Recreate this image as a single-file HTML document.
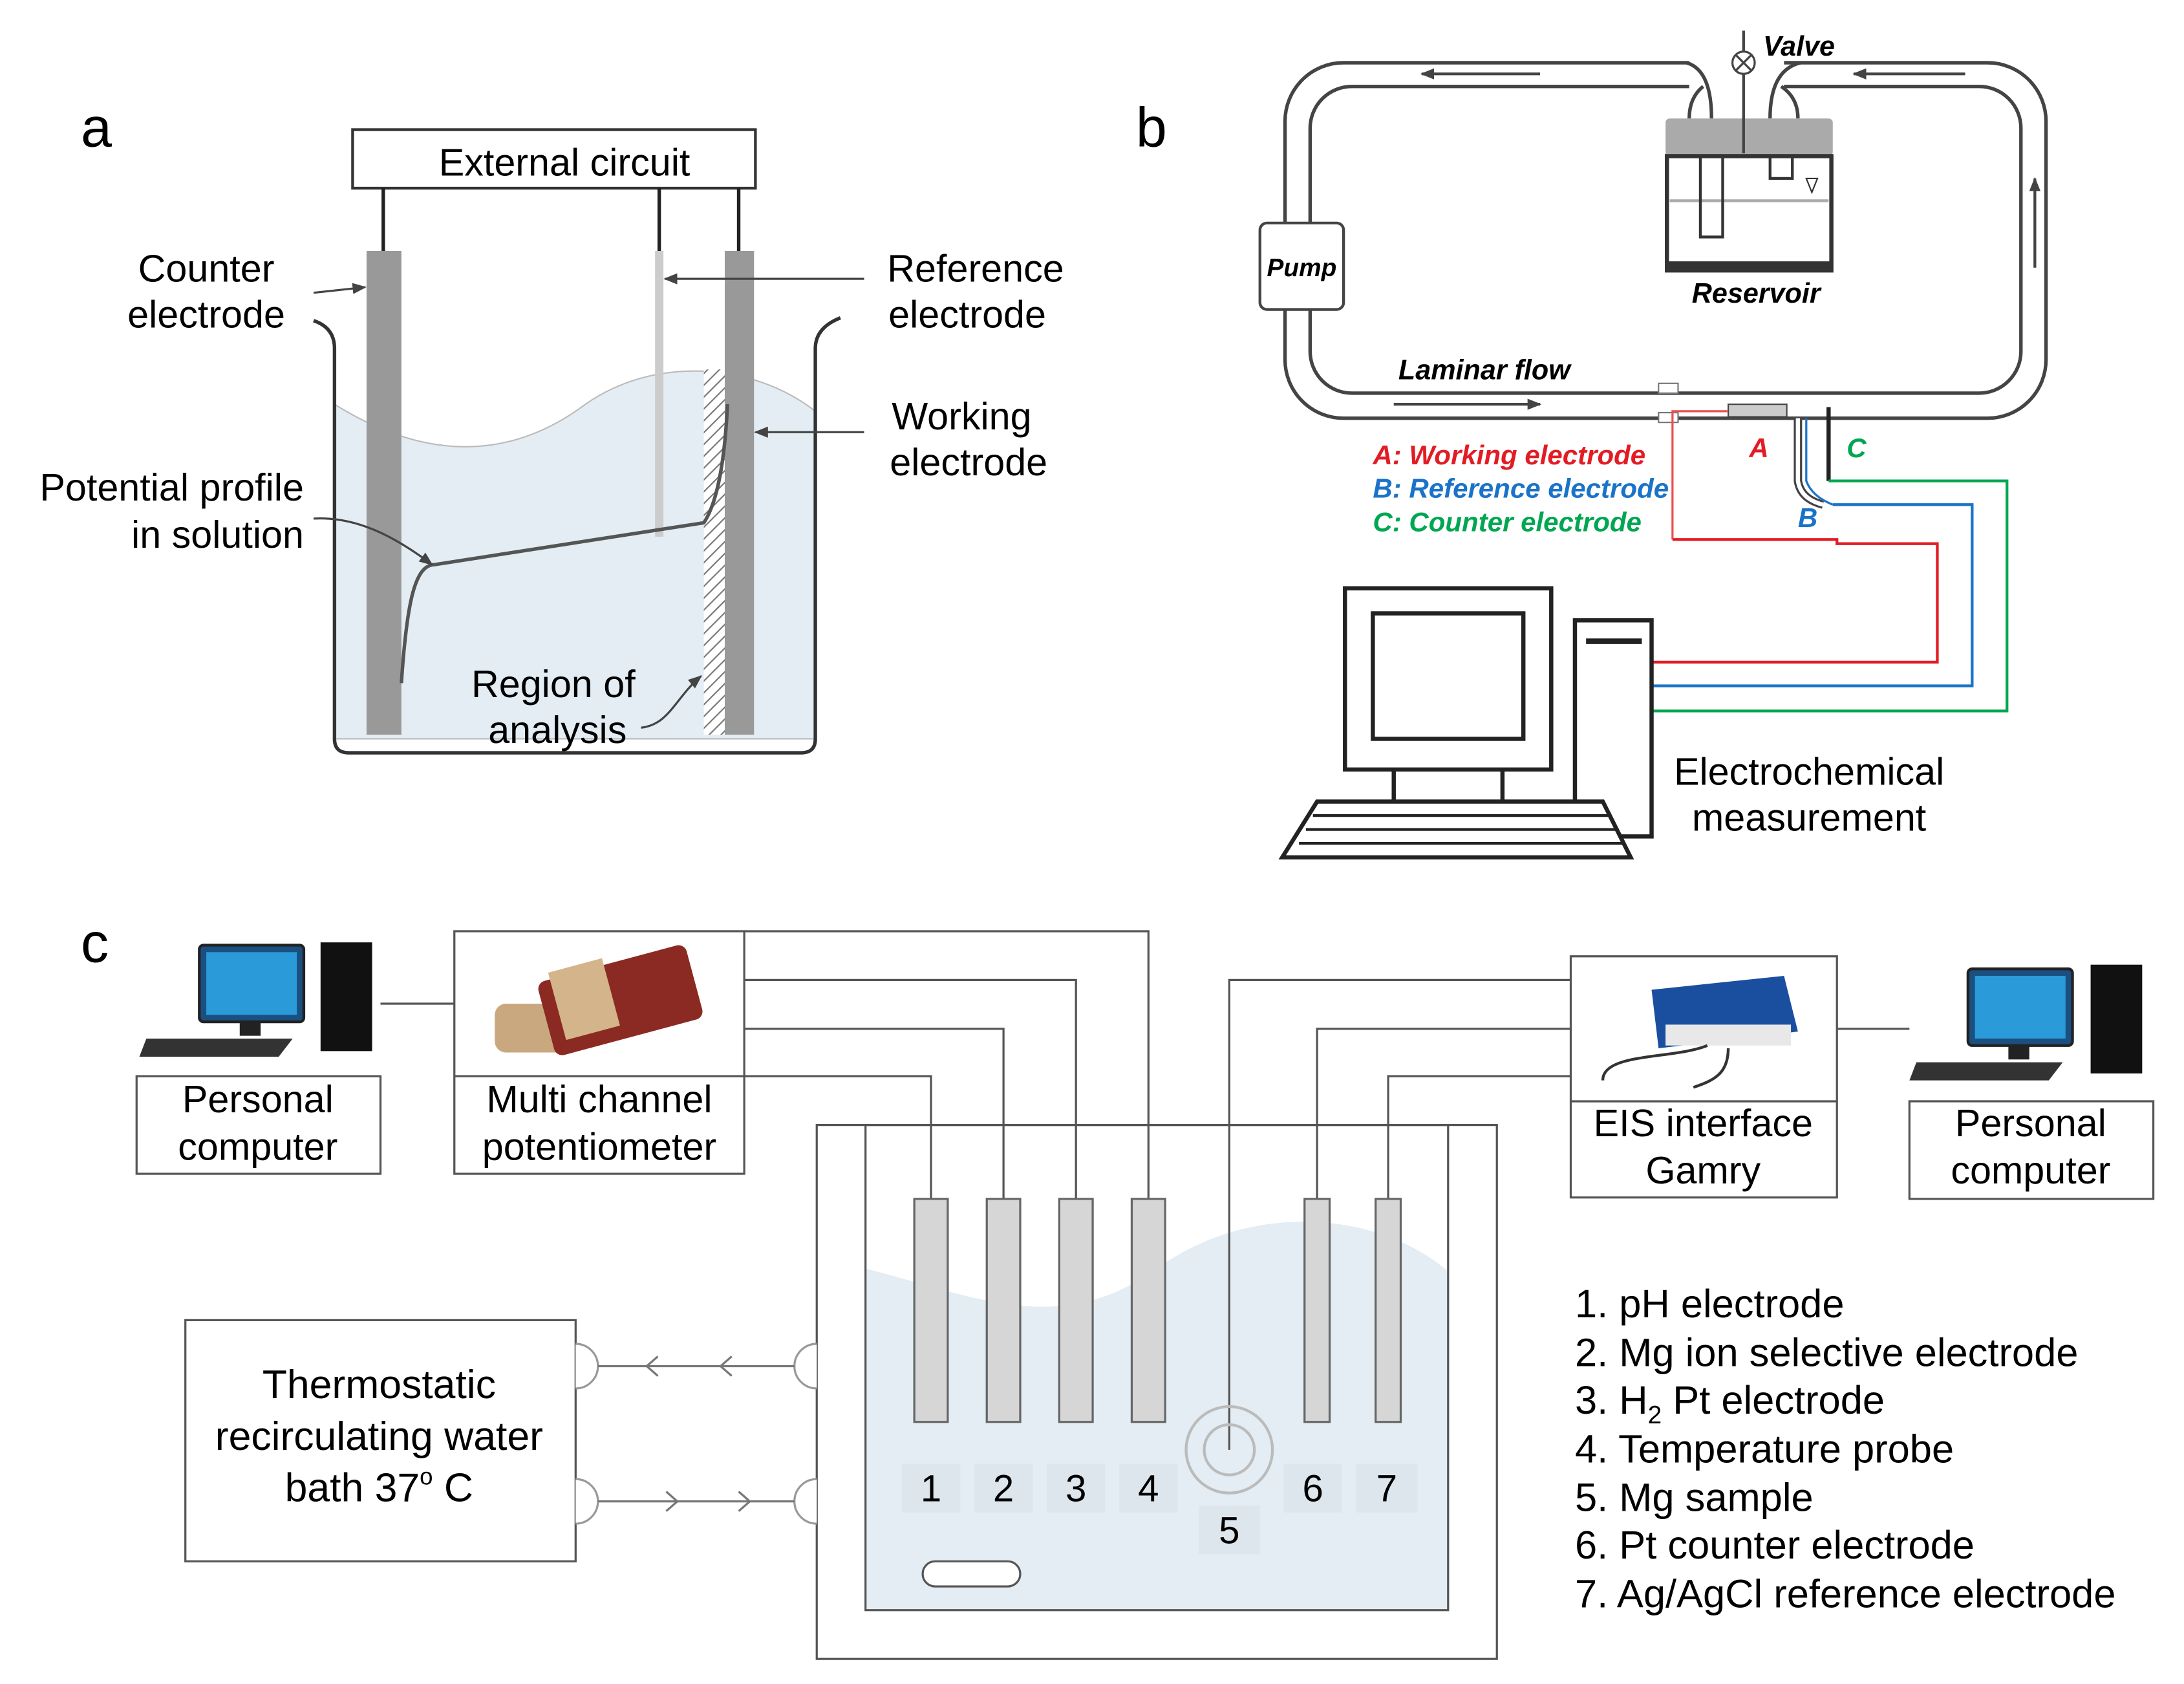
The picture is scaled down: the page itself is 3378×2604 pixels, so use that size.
<!DOCTYPE html>
<html><head><meta charset="utf-8"><style>
html,body{margin:0;padding:0;background:#fff;}
svg{display:block;}
text{font-family:"Liberation Sans",sans-serif;}
</style></head><body>
<svg width="3378" height="2604" viewBox="0 0 1567 1208" preserveAspectRatio="none" xmlns="http://www.w3.org/2000/svg">
<defs>
<pattern id="hatch" width="6" height="6" patternUnits="userSpaceOnUse" patternTransform="rotate(45)">
<rect width="6" height="6" fill="#fff"/><line x1="0" y1="0" x2="0" y2="6" stroke="#777" stroke-width="2"/></pattern>
<marker id="ah" markerWidth="10" markerHeight="8" refX="9" refY="4" orient="auto" markerUnits="userSpaceOnUse"><path d="M0,0 L10,4 L0,8 Z" fill="#444"/></marker>
</defs>

<text x="58" y="105" font-size="40">a</text>
<rect x="253" y="93" width="289" height="42" fill="#fff" stroke="#333" stroke-width="2"/>
<text x="405" y="126" font-size="27.5" text-anchor="middle">External circuit</text>
<path d="M240,290 C320,340 380,320 420,290 C470,255 540,260 585,295 L585,530 L240,530 Z" fill="#e3edf3" stroke="#bbb" stroke-width="1"/>
<path d="M225,230 Q240,235 240,250 L240,530 Q240,540 250,540 L575,540 Q585,540 585,530 L585,250 Q585,235 603,228" fill="none" stroke="#333" stroke-width="2.5"/>
<line x1="275" y1="135" x2="275" y2="180" stroke="#222" stroke-width="2.5"/>
<line x1="473" y1="135" x2="473" y2="180" stroke="#222" stroke-width="2.5"/>
<line x1="530" y1="135" x2="530" y2="180" stroke="#222" stroke-width="2.5"/>
<rect x="263" y="180" width="25" height="347" fill="#999"/>
<rect x="470" y="180" width="6" height="205" fill="#ccc"/>
<rect x="505" y="265" width="15" height="262" fill="url(#hatch)"/>
<rect x="520" y="180" width="21" height="347" fill="#999"/>
<path d="M288,490 C292,430 298,405 312,405 L505,375 C515,360 520,330 522,290" fill="none" stroke="#555" stroke-width="2.5"/>
<g font-size="27.5" text-anchor="middle">
<text x="148" y="202">Counter</text><text x="148" y="235">electrode</text>
<text x="700" y="202">Reference</text><text x="694" y="235">electrode</text>
<text x="690" y="308">Working</text><text x="695" y="341">electrode</text>
<text x="397" y="500">Region of</text><text x="400" y="533">analysis</text>
</g>
<g font-size="27.5" text-anchor="end">
<text x="218" y="359">Potential profile</text><text x="218" y="393">in solution</text>
</g>
<g stroke="#444" stroke-width="1.5" fill="none" marker-end="url(#ah)">
<line x1="225" y1="210" x2="262" y2="206"/>
<line x1="620" y1="200" x2="477" y2="200"/>
<line x1="620" y1="310" x2="542" y2="310"/>
<path d="M225,372 C260,370 290,390 310,405"/>
<path d="M460,522 C480,520 485,500 503,485"/>
</g>

<text x="815" y="105" font-size="40">b</text>
<rect x="922" y="45" width="546" height="255" rx="42" fill="none" stroke="#444" stroke-width="2.5"/>
<rect x="940" y="62" width="510" height="220" rx="30" fill="none" stroke="#444" stroke-width="2.5"/>
<rect x="1212" y="40" width="68" height="30" fill="#fff"/>
<path d="M1210,45 Q1228,50 1228,85 M1222,62 Q1212,70 1212,85" fill="none" stroke="#444" stroke-width="2.5"/>
<path d="M1292,45 Q1270,50 1270,85 M1278,62 Q1290,70 1290,85" fill="none" stroke="#444" stroke-width="2.5"/>
<rect x="1195" y="85" width="120" height="27" rx="3" fill="#aaa"/>
<rect x="1196" y="112" width="118" height="82" fill="#fff" stroke="#333" stroke-width="3"/>
<line x1="1196" y1="190" x2="1314" y2="190" stroke="#333" stroke-width="5"/>
<line x1="1198" y1="144" x2="1312" y2="144" stroke="#aaa" stroke-width="2"/>
<path d="M1220,112 L1220,170 L1236,170 L1236,112" fill="none" stroke="#333" stroke-width="2"/>
<path d="M1270,112 L1270,128 L1286,128 L1286,112" fill="none" stroke="#333" stroke-width="2"/>
<path d="M1296,128 L1304,128 L1300,138 Z" fill="none" stroke="#333" stroke-width="1"/>
<line x1="1251" y1="45" x2="1251" y2="110" stroke="#444" stroke-width="2"/>
<circle cx="1251" cy="45" r="8" fill="#fff" stroke="#444" stroke-width="1.5"/>
<path d="M1245,39 L1257,51 M1257,39 L1245,51" stroke="#444" stroke-width="1.5"/>
<line x1="1251" y1="22" x2="1251" y2="37" stroke="#444" stroke-width="2"/>
<text x="1265" y="40" font-size="20" font-style="italic" font-weight="bold">Valve</text>
<rect x="904" y="160" width="60" height="62" rx="5" fill="#fff" stroke="#444" stroke-width="2"/>
<text x="934" y="198" font-size="18" font-style="italic" font-weight="bold" text-anchor="middle">Pump</text>
<text x="1260" y="217" font-size="20" font-style="italic" font-weight="bold" text-anchor="middle">Reservoir</text>
<text x="1065" y="272" font-size="20" font-style="italic" font-weight="bold" text-anchor="middle">Laminar flow</text>
<g stroke="#444" stroke-width="2" marker-end="url(#ah)">
<line x1="1105" y1="53" x2="1020" y2="53"/>
<line x1="1410" y1="53" x2="1330" y2="53"/>
<line x1="1460" y1="192" x2="1460" y2="128"/>
<line x1="1000" y1="290" x2="1105" y2="290"/>
</g>
<rect x="1240" y="290" width="42" height="9" fill="#ccc" stroke="#444" stroke-width="1"/>
<rect x="1190" y="275" width="14" height="7" fill="#fff" stroke="#777"/>
<rect x="1190" y="296" width="14" height="7" fill="#fff" stroke="#777"/>
<path d="M1290,300 L1290,345 Q1292,358 1308,362" fill="none" stroke="#444" stroke-width="6"/>
<path d="M1290,300 L1290,345 Q1292,358 1308,362" fill="none" stroke="#fff" stroke-width="3"/>
<path d="M1296,300 L1296,345 Q1300,356 1315,362" fill="none" stroke="#1a73c8" stroke-width="1.5"/>
<line x1="1312" y1="292" x2="1312" y2="345" stroke="#222" stroke-width="3"/>
<g font-size="19.5" font-style="italic" font-weight="bold">
<text x="985" y="333" fill="#e21c24">A: Working electrode</text>
<text x="985" y="357" fill="#1a73c8">B: Reference electrode</text>
<text x="985" y="381" fill="#00a651">C: Counter electrode</text>
<text x="1255" y="328" fill="#e21c24">A</text>
<text x="1290" y="378" fill="#1a73c8">B</text>
<text x="1325" y="328" fill="#00a651">C</text>
</g>
<path d="M1200,387 L1200,295 L1240,295" fill="none" stroke="#e85050" stroke-width="1.5"/>
<path d="M1200,387 L1318,387 L1318,390 L1390,390 L1390,475 L1185,475" fill="none" stroke="#e21c24" stroke-width="2"/>
<path d="M1315,362 L1415,362 L1415,492 L1185,492" fill="none" stroke="#1a73c8" stroke-width="2"/>
<path d="M1312,345 L1440,345 L1440,510 L1185,510" fill="none" stroke="#00a651" stroke-width="2"/>
<rect x="965" y="422" width="148" height="130" fill="#fff" stroke="#222" stroke-width="3"/>
<rect x="985" y="440" width="108" height="90" fill="#fff" stroke="#222" stroke-width="3"/>
<path d="M1000,552 L1000,575 M1078,552 L1078,575" stroke="#222" stroke-width="3"/>
<rect x="1130" y="445" width="55" height="155" fill="#fff" stroke="#222" stroke-width="3"/>
<line x1="1138" y1="460" x2="1178" y2="460" stroke="#222" stroke-width="4"/>
<path d="M945,575 L1150,575 L1170,615 L920,615 Z" fill="#fff" stroke="#222" stroke-width="3"/>
<path d="M942,585 L1154,585 M937,595 L1159,595 M932,605 L1164,605" stroke="#222" stroke-width="2"/>
<text x="1298" y="563" font-size="27.5" text-anchor="middle">Electrochemical</text>
<text x="1298" y="596" font-size="27.5" text-anchor="middle">measurement</text>

<text x="58" y="690" font-size="40">c</text>
<rect x="143" y="678" width="75" height="55" rx="3" fill="#1a4f80" stroke="#222" stroke-width="2"/>
<rect x="148" y="683" width="65" height="45" fill="#2a9ad8"/>
<rect x="172" y="733" width="15" height="10" fill="#222"/>
<path d="M105,745 L210,745 L200,758 L100,758 Z" fill="#333"/>
<rect x="230" y="676" width="37" height="78" fill="#111"/>
<rect x="98" y="772" width="175" height="70" fill="#fff" stroke="#555" stroke-width="1.5"/>
<text x="185" y="798" font-size="27.5" text-anchor="middle">Personal</text>
<text x="185" y="832" font-size="27.5" text-anchor="middle">computer</text>
<line x1="273" y1="720" x2="326" y2="720" stroke="#555" stroke-width="1.5"/>
<rect x="326" y="668" width="208" height="174" fill="#fff" stroke="#555" stroke-width="1.5"/>
<line x1="326" y1="772" x2="534" y2="772" stroke="#555" stroke-width="1.5"/>
<rect x="355" y="720" width="60" height="35" rx="8" fill="#c9a880"/>
<rect x="390" y="690" width="110" height="55" rx="6" fill="#8a2a22" transform="rotate(-15 445 717)"/>
<rect x="400" y="685" width="40" height="50" fill="#d4b48a" transform="rotate(-15 445 717)"/>
<text x="430" y="798" font-size="27.5" text-anchor="middle">Multi channel</text>
<text x="430" y="832" font-size="27.5" text-anchor="middle">potentiometer</text>
<rect x="586" y="807" width="488" height="383" fill="#fff" stroke="#555" stroke-width="1.5"/>
<path d="M621,910 C700,930 760,960 830,910 C900,860 990,870 1039,912 L1039,1155 L621,1155 Z" fill="#e3edf3"/>
<rect x="621" y="807" width="418" height="348" fill="none" stroke="#555" stroke-width="1.5"/>
<g fill="none" stroke="#555" stroke-width="1.5">
<path d="M534,668 L824,668 L824,860"/>
<path d="M534,703 L772,703 L772,860"/>
<path d="M534,738 L720,738 L720,860"/>
<path d="M534,772 L668,772 L668,860"/>
<path d="M882,1040 L882,703 L1127,703"/>
<path d="M1127,738 L945,738 L945,860"/>
<path d="M1127,772 L996,772 L996,860"/>
<line x1="1318" y1="738" x2="1370" y2="738"/>
</g>
<g fill="#d6d6d6" stroke="#666" stroke-width="1.5">
<rect x="656" y="860" width="24" height="160"/>
<rect x="708" y="860" width="24" height="160"/>
<rect x="760" y="860" width="24" height="160"/>
<rect x="812" y="860" width="24" height="160"/>
<rect x="936" y="860" width="18" height="160"/>
<rect x="987" y="860" width="18" height="160"/>
</g>
<circle cx="882" cy="1040" r="31" fill="none" stroke="#bbb" stroke-width="2"/>
<circle cx="882" cy="1040" r="18" fill="none" stroke="#bbb" stroke-width="2"/>
<g fill="#dde6ec">
<rect x="647" y="1050" width="42" height="35"/><rect x="699" y="1050" width="42" height="35"/>
<rect x="751" y="1050" width="42" height="35"/><rect x="803" y="1050" width="42" height="35"/>
<rect x="860" y="1080" width="44" height="35"/>
<rect x="921" y="1050" width="42" height="35"/><rect x="973" y="1050" width="44" height="35"/>
</g>
<g font-size="27" text-anchor="middle">
<text x="668" y="1077">1</text><text x="720" y="1077">2</text><text x="772" y="1077">3</text>
<text x="824" y="1077">4</text><text x="882" y="1107">5</text><text x="942" y="1077">6</text><text x="995" y="1077">7</text>
</g>
<rect x="662" y="1120" width="70" height="18" rx="9" fill="#fff" stroke="#555" stroke-width="1.5"/>
<rect x="1127" y="686" width="191" height="173" fill="#fff" stroke="#555" stroke-width="1.5"/>
<line x1="1127" y1="790" x2="1318" y2="790" stroke="#555" stroke-width="1.5"/>
<path d="M1185,710 L1280,700 L1290,740 L1190,752 Z" fill="#1a4fa0"/>
<rect x="1195" y="735" width="90" height="15" fill="#e8e8e8"/>
<path d="M1225,750 C1200,760 1150,755 1150,775 M1240,752 C1240,770 1230,775 1215,780" fill="none" stroke="#333" stroke-width="2"/>
<text x="1222" y="815" font-size="27.5" text-anchor="middle">EIS interface</text>
<text x="1222" y="849" font-size="27.5" text-anchor="middle">Gamry</text>
<rect x="1412" y="695" width="75" height="55" rx="3" fill="#1a4f80" stroke="#222" stroke-width="2"/>
<rect x="1417" y="700" width="65" height="45" fill="#2a9ad8"/>
<rect x="1441" y="750" width="15" height="10" fill="#222"/>
<path d="M1375,762 L1480,762 L1470,775 L1370,775 Z" fill="#333"/>
<rect x="1500" y="692" width="37" height="78" fill="#111"/>
<rect x="1370" y="790" width="175" height="70" fill="#fff" stroke="#555" stroke-width="1.5"/>
<text x="1457" y="815" font-size="27.5" text-anchor="middle">Personal</text>
<text x="1457" y="849" font-size="27.5" text-anchor="middle">computer</text>
<rect x="133" y="947" width="280" height="173" fill="#fff" stroke="#555" stroke-width="1.5"/>
<text x="272" y="1003" font-size="29" text-anchor="middle">Thermostatic</text>
<text x="272" y="1040" font-size="29" text-anchor="middle">recirculating water</text>
<text x="272" y="1077" font-size="29" text-anchor="middle">bath 37<tspan font-size="17" dy="-12">o</tspan><tspan dy="12"> C</tspan></text>
<g fill="#fff" stroke="#999" stroke-width="1.5">
<path d="M413,964 A16,16 0 0 1 413,996"/><path d="M413,1061 A16,16 0 0 1 413,1093"/>
<path d="M586,964 A16,16 0 0 0 586,996"/><path d="M586,1061 A16,16 0 0 0 586,1093"/>
</g>
<line x1="429" y1="980" x2="570" y2="980" stroke="#777" stroke-width="1.5"/>
<line x1="429" y1="1077" x2="570" y2="1077" stroke="#777" stroke-width="1.5"/>
<g fill="none" stroke="#777" stroke-width="1.5">
<path d="M472,973 L464,980 L472,987 M525,973 L517,980 L525,987"/>
<path d="M478,1070 L486,1077 L478,1084 M530,1070 L538,1077 L530,1084"/>
</g>
<g font-size="28.5">
<text x="1130" y="945">1. pH electrode</text>
<text x="1130" y="980">2. Mg ion selective electrode</text>
<text x="1130" y="1014">3. H<tspan font-size="18" dy="7">2</tspan><tspan dy="-7"> Pt electrode</tspan></text>
<text x="1130" y="1049">4. Temperature probe</text>
<text x="1130" y="1084">5. Mg sample</text>
<text x="1130" y="1118">6. Pt counter electrode</text>
<text x="1130" y="1153">7. Ag/AgCl reference electrode</text>
</g>
</svg>
</body></html>
